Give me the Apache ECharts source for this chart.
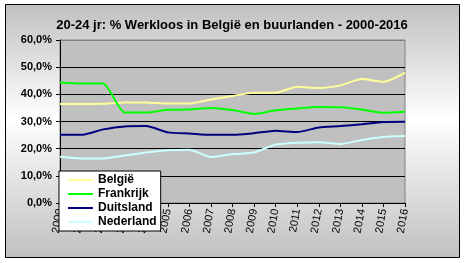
<!DOCTYPE html>
<html>
<head>
<meta charset="utf-8">
<script src="https://cdn.jsdelivr.net/npm/echarts@6/dist/echarts.min.js"></script>
<style>
html,body{margin:0;padding:0;background:#fff;}
#c{width:464px;height:263px;}
</style>
</head>
<body>
<div id="c"></div>
<script>
var years = ['2000','2001','2002','2003','2004','2005','2006','2007','2008','2009','2010','2011','2012','2013','2014','2015','2016'];
var belgie =    [36.4,36.4,36.5,37.0,37.0,36.6,36.6,38.1,39.4,40.6,40.6,42.8,42.3,43.3,45.6,44.6,47.9];
var frankrijk = [44.4,44.0,44.0,33.3,33.3,34.3,34.4,35.0,34.2,32.8,34.1,34.8,35.3,35.2,34.4,33.2,33.6];
var duitsland = [25.1,25.1,27.1,28.2,28.3,26.0,25.6,25.1,25.1,25.7,26.6,26.1,27.8,28.3,29.0,29.8,29.9];
var nederland = [17.0,16.4,16.4,17.5,18.6,19.4,19.6,16.9,18.0,18.6,21.5,22.2,22.4,21.7,23.2,24.3,24.7];
var yTicks = [0,10,20,30,40,50,60];

var chart = echarts.init(document.getElementById('c'), null, {renderer:'canvas'});
function mk(name, data, color){
  return {name:name, type:'line', data:data, showSymbol:false, symbol:'none', smooth:0.2,
    lineStyle:{color:color, width:2}, itemStyle:{color:color}, animation:false};
}
chart.setOption({
  animation:false,
  graphic:[{type:'rect', z:-10, shape:{x:5.5,y:4.5,width:454,height:253},
    style:{fill:new echarts.graphic.LinearGradient(0,0,0,1,[
      {offset:0,color:'#c0c0c0'},{offset:0.45,color:'#ffffff'},{offset:1,color:'#c0c0c0'}]),
      stroke:'#000', lineWidth:1}}],
  title:{text:'20-24 jr: % Werkloos in België en buurlanden - 2000-2016', left:'center', top:14,
    textStyle:{fontFamily:'Liberation Sans, Arial', fontWeight:'bold', fontSize:13, color:'#000'}},
  legend:{orient:'vertical', left:59, top:171, backgroundColor:'#fff', borderColor:'#000', borderWidth:1,
    padding:[2,4,2,9], itemGap:0, itemWidth:25, itemHeight:2, icon:'rect',
    textStyle:{fontFamily:'Liberation Sans, Arial', fontWeight:'bold', fontSize:12, color:'#000', lineHeight:14},
    data:['België','Frankrijk','Duitsland','Nederland']},
  grid:{left:60, right:59, top:40, bottom:60, show:true, backgroundColor:'#c0c0c0', borderColor:'#808080', borderWidth:1},
  xAxis:{type:'category', data:years, boundaryGap:false,
    axisLine:{lineStyle:{color:'#000', width:1}},
    axisTick:{show:true, inside:false, length:4, lineStyle:{color:'#000'}},
    axisLabel:{rotate:80, margin:6, fontFamily:'Liberation Sans, Arial', fontSize:11, color:'#000', interval:0},
    splitLine:{show:false}},
  yAxis:{type:'value', min:yTicks[0], max:yTicks[yTicks.length-1], interval:10,
    axisLine:{show:true, lineStyle:{color:'#000', width:1}},
    axisTick:{show:true, length:4, lineStyle:{color:'#000'}},
    axisLabel:{margin:8, fontFamily:'Liberation Sans, Arial', fontWeight:'bold', fontSize:11, color:'#000',
      formatter:function(v){return v.toFixed(1).replace('.',',')+'%';}},
    splitLine:{show:true, lineStyle:{color:['#000','#000','#000','#000','#000','#000','#808080'], width:1}}},
  series:[mk('België',belgie,'#ffff99'), mk('Frankrijk',frankrijk,'#00ff00'), mk('Duitsland',duitsland,'#000080'), mk('Nederland',nederland,'#ccffff')]
});
</script>
</body>
</html>
